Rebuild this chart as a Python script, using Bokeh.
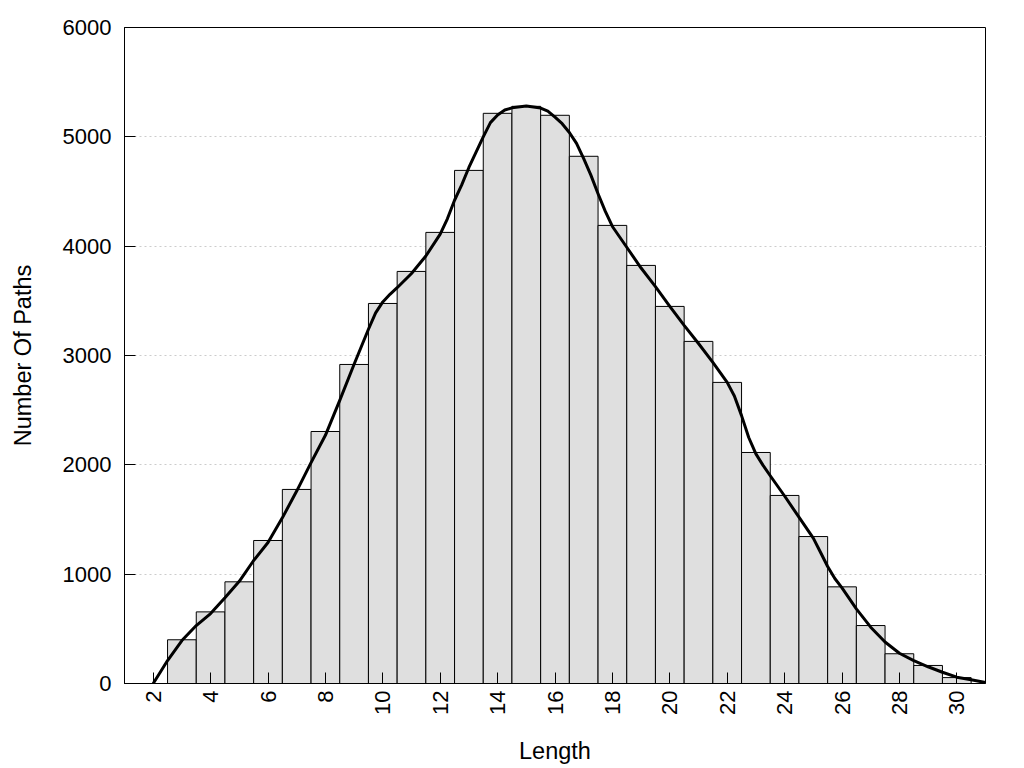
from bokeh.plotting import figure
from bokeh.models import Range1d, FixedTicker, ColumnDataSource
from bokeh.embed import file_html
from bokeh.resources import INLINE
import math

# Histogram data
lengths = [3, 4, 5, 6, 7, 8, 9, 10, 11, 12, 13, 14, 15, 16, 17, 18, 19, 20,
           21, 22, 23, 24, 25, 26, 27, 28, 29, 30]
counts = [400, 655, 930, 1308, 1775, 2305, 2918, 3476, 3769, 4126, 4693, 5215,
          5279, 5197, 4822, 4190, 3824, 3449, 3129, 2754, 2113, 1720, 1344, 884,
          530, 272, 165, 54]

# Smooth density curve
curve_x = [2.0, 2.5, 3.0, 3.5, 4.0, 4.5, 5.0, 5.5, 6.0, 6.5, 7.0, 7.5, 8.0, 8.5,
           9.0, 9.5, 9.75, 10.0, 10.25, 10.5, 11.0, 11.5, 12.0, 12.25, 12.5, 12.75,
           13.0, 13.5, 13.75, 14.0, 14.25, 14.5, 15.0, 15.5, 15.75, 16.0, 16.25,
           16.5, 16.75, 17.0, 17.25, 17.5, 17.75, 18.0, 18.5, 19.0, 19.5, 20.0,
           20.5, 21.0, 21.5, 22.0, 22.25, 22.5, 22.75, 23.0, 23.25, 23.5, 24.0,
           24.5, 25.0, 25.25, 25.5, 25.75, 26.0, 26.5, 27.0, 27.5, 28.0, 28.5,
           29.0, 29.5, 30.0, 30.5, 31.0]
curve_y = [0, 210, 393, 530, 640, 784, 935, 1125, 1290, 1515, 1760, 2020, 2270, 2590,
           2920, 3240, 3390, 3490, 3560, 3620, 3750, 3910, 4110, 4250, 4420, 4560,
           4720, 5000, 5130, 5200, 5245, 5265, 5282, 5263, 5235, 5180, 5120,
           5040, 4940, 4800, 4650, 4480, 4320, 4180, 3990, 3800, 3630, 3450,
           3276, 3110, 2937, 2754, 2630, 2450, 2250, 2100, 1995, 1900, 1715,
           1521, 1330, 1200, 1070, 960, 875, 683, 515, 380, 277, 210,
           153, 103, 58, 34, 10]

x_ticks = [2, 4, 6, 8, 10, 12, 14, 16, 18, 20, 22, 24, 26, 28, 30]
y_ticks = [0, 1000, 2000, 3000, 4000, 5000, 6000]

FONT = "Liberation Sans"

p = figure(width=1008, height=768, output_backend="svg", toolbar_location=None,
           x_range=Range1d(1, 31), y_range=Range1d(0, 6000),
           min_border_left=124, min_border_right=23, min_border_top=27,
           min_border_bottom=85)

p.outline_line_color = "black"
p.outline_line_width = 1
p.background_fill_color = "white"
p.border_fill_color = "white"

src = ColumnDataSource(dict(x=lengths, top=counts))
p.vbar(x="x", top="top", width=1, bottom=0, source=src,
       fill_color="#dfdfdf", line_color="black", line_width=1)

p.line(curve_x, curve_y, line_color="black", line_width=3, line_join="round")

# Grids
p.xgrid.visible = False
p.ygrid.grid_line_color = "#cccccc"
p.ygrid.grid_line_dash = "2 3"
p.ygrid.grid_line_width = 1
p.ygrid.ticker = FixedTicker(ticks=y_ticks)

# Axes
p.xaxis.ticker = FixedTicker(ticks=x_ticks)
p.yaxis.ticker = FixedTicker(ticks=y_ticks)
for ax in (p.xaxis[0], p.yaxis[0]):
    ax.major_tick_in = 11
    ax.major_tick_out = 0
    ax.minor_tick_line_color = None
    ax.axis_line_color = "black"
    ax.major_tick_line_color = "black"
    ax.major_label_text_font = FONT
    ax.major_label_text_font_size = "22px"
    ax.major_label_text_color = "black"
    ax.axis_label_text_font = FONT
    ax.axis_label_text_font_size = "23.5px"
    ax.axis_label_text_font_style = "normal"
    ax.axis_label_text_color = "black"

p.xaxis.major_label_orientation = math.pi / 2
p.xaxis.major_label_standoff = 7
p.xaxis.axis_label = "Length"
p.xaxis.axis_label_standoff = 20

p.yaxis.major_label_standoff = 13
p.yaxis.axis_label = "Number Of Paths"
p.yaxis.axis_label_standoff = 24

open("out.html", "w").write(file_html(p, INLINE))
